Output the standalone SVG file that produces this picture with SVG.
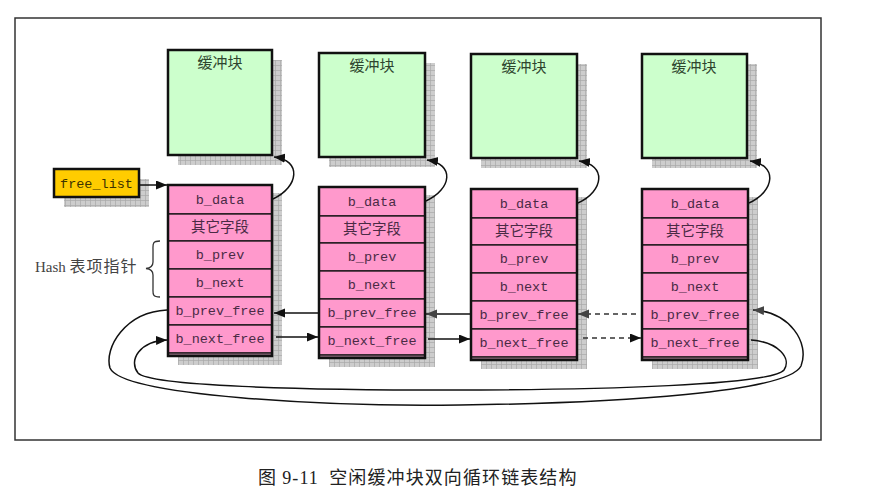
<svg xmlns="http://www.w3.org/2000/svg" width="880" height="502" viewBox="0 0 880 502">
<defs>
<pattern id="grid" width="5" height="5" patternUnits="userSpaceOnUse">
<rect width="5" height="5" fill="#cdcdcd"/>
<path d="M0 0.5H5M0.5 0V5" stroke="#a9a9a9" stroke-width="0.7" fill="none"/>
</pattern>
<marker id="ah" markerUnits="userSpaceOnUse" markerWidth="12" markerHeight="10" refX="11" refY="4.5" orient="auto">
<path d="M0 0L11 4.5L0 9z" fill="#111"/>
</marker>
<marker id="ahg" markerUnits="userSpaceOnUse" markerWidth="12" markerHeight="10" refX="11" refY="4.5" orient="auto">
<path d="M0 0L11 4.5L0 9z" fill="#444"/>
</marker>
</defs>
<style>
.shadow{fill:url(#grid);}
.buf{fill:#ccffcc;stroke:#111;stroke-width:2.5;}
.row{fill:#ff99cc;stroke:#111;stroke-width:1.3;}
.outer{fill:none;stroke:#111;stroke-width:2.5;}
.mono{font-family:"Liberation Mono","DejaVu Sans Mono",monospace;font-size:13.5px;fill:#4a2a45;text-anchor:middle;}
.cjk{font-family:"Noto Sans CJK SC","Noto Sans CJK JP",sans-serif;font-size:14.5px;fill:#4a2a45;text-anchor:middle;}
.btitle{font-family:"Noto Sans CJK SC","Noto Sans CJK JP",sans-serif;font-size:15px;fill:#2e452e;text-anchor:middle;}
.conn{fill:none;stroke:#111;stroke-width:1.5;}
.dash{fill:none;stroke:#333;stroke-width:1.5;stroke-dasharray:5 4;}
</style>
<rect x="15" y="18" width="806" height="422" fill="#fff" stroke="#333" stroke-width="1.5"/>

<g id="freelist">
<rect class="shadow" x="64" y="179" width="85" height="28"/>
<rect x="54" y="169" width="85" height="28" fill="#ffcc00" stroke="#111" stroke-width="2.5"/>
<text x="96.5" y="188" class="mono" style="fill:#3d3300">free_list</text>
</g>

<g id="buf1">
<rect class="shadow" x="178" y="60" width="104" height="105"/>
<rect class="buf" x="168" y="50" width="104" height="105"/>
<text x="220" y="68" class="btitle">缓冲块</text>
</g>
<g id="buf2">
<rect class="shadow" x="329" y="63" width="106" height="104"/>
<rect class="buf" x="319" y="53" width="106" height="104"/>
<text x="372" y="71" class="btitle">缓冲块</text>
</g>
<g id="buf3">
<rect class="shadow" x="481" y="64" width="106" height="104"/>
<rect class="buf" x="471" y="54" width="106" height="104"/>
<text x="524" y="72" class="btitle">缓冲块</text>
</g>
<g id="buf4">
<rect class="shadow" x="652" y="64" width="105" height="104"/>
<rect class="buf" x="642" y="54" width="105" height="104"/>
<text x="694" y="72" class="btitle">缓冲块</text>
</g>

<g id="head1" transform="translate(168,185)">
<rect class="shadow" x="10" y="8" width="104" height="172"/>
<rect class="row" x="0" y="0" width="104" height="29"/>
<rect class="row" x="0" y="29" width="104" height="27"/>
<rect class="row" x="0" y="56" width="104" height="28"/>
<rect class="row" x="0" y="84" width="104" height="28"/>
<rect class="row" x="0" y="112" width="104" height="28"/>
<rect class="row" x="0" y="140" width="104" height="28"/>
<rect x="0" y="168" width="104" height="3" fill="#8a6a7a" stroke="#111" stroke-width="1"/>
<rect class="outer" x="0" y="0" width="104" height="171"/>
<text x="52" y="19" class="mono">b_data</text>
<text x="52" y="47" class="cjk">其它字段</text>
<text x="52" y="74" class="mono">b_prev</text>
<text x="52" y="102" class="mono">b_next</text>
<text x="52" y="130" class="mono">b_prev_free</text>
<text x="52" y="158" class="mono">b_next_free</text>
</g>
<g id="head2" transform="translate(319,187)">
<rect class="shadow" x="10" y="8" width="106" height="172"/>
<rect class="row" x="0" y="0" width="106" height="29"/>
<rect class="row" x="0" y="29" width="106" height="27"/>
<rect class="row" x="0" y="56" width="106" height="28"/>
<rect class="row" x="0" y="84" width="106" height="28"/>
<rect class="row" x="0" y="112" width="106" height="28"/>
<rect class="row" x="0" y="140" width="106" height="28"/>
<rect x="0" y="168" width="106" height="3" fill="#8a6a7a" stroke="#111" stroke-width="1"/>
<rect class="outer" x="0" y="0" width="106" height="171"/>
<text x="53" y="19" class="mono">b_data</text>
<text x="53" y="47" class="cjk">其它字段</text>
<text x="53" y="74" class="mono">b_prev</text>
<text x="53" y="102" class="mono">b_next</text>
<text x="53" y="130" class="mono">b_prev_free</text>
<text x="53" y="158" class="mono">b_next_free</text>
</g>
<g id="head3" transform="translate(471,189)">
<rect class="shadow" x="10" y="8" width="106" height="172"/>
<rect class="row" x="0" y="0" width="106" height="29"/>
<rect class="row" x="0" y="29" width="106" height="27"/>
<rect class="row" x="0" y="56" width="106" height="28"/>
<rect class="row" x="0" y="84" width="106" height="28"/>
<rect class="row" x="0" y="112" width="106" height="28"/>
<rect class="row" x="0" y="140" width="106" height="28"/>
<rect x="0" y="168" width="106" height="3" fill="#8a6a7a" stroke="#111" stroke-width="1"/>
<rect class="outer" x="0" y="0" width="106" height="171"/>
<text x="53" y="19" class="mono">b_data</text>
<text x="53" y="47" class="cjk">其它字段</text>
<text x="53" y="74" class="mono">b_prev</text>
<text x="53" y="102" class="mono">b_next</text>
<text x="53" y="130" class="mono">b_prev_free</text>
<text x="53" y="158" class="mono">b_next_free</text>
</g>
<g id="head4" transform="translate(642,189)">
<rect class="shadow" x="10" y="8" width="106" height="172"/>
<rect class="row" x="0" y="0" width="106" height="29"/>
<rect class="row" x="0" y="29" width="106" height="27"/>
<rect class="row" x="0" y="56" width="106" height="28"/>
<rect class="row" x="0" y="84" width="106" height="28"/>
<rect class="row" x="0" y="112" width="106" height="28"/>
<rect class="row" x="0" y="140" width="106" height="28"/>
<rect x="0" y="168" width="106" height="3" fill="#8a6a7a" stroke="#111" stroke-width="1"/>
<rect class="outer" x="0" y="0" width="106" height="171"/>
<text x="53" y="19" class="mono">b_data</text>
<text x="53" y="47" class="cjk">其它字段</text>
<text x="53" y="74" class="mono">b_prev</text>
<text x="53" y="102" class="mono">b_next</text>
<text x="53" y="130" class="mono">b_prev_free</text>
<text x="53" y="158" class="mono">b_next_free</text>
</g>

<g id="hashlabel">
<text x="35" y="272" style="font-family:'Liberation Serif','Noto Sans CJK SC',serif;font-size:15px;fill:#444">Hash <tspan style="font-family:'Noto Sans CJK SC',sans-serif;font-size:16px;letter-spacing:1px">表项指针</tspan></text>
<path d="M160 241 C152 241 153 244 153 250 L153 262 C153 266 151 268 146 268.5 C151 269 153 271 153 275 L153 288 C153 294 152 297 160 297" fill="none" stroke="#333" stroke-width="1.3"/>
</g>

<g id="connectors">
<path class="conn" d="M140 185 L167 185" marker-end="url(#ah)"/>
<path class="conn" d="M273 199 C299 187 302 160 274 157" marker-end="url(#ah)"/>
<path class="conn" d="M426 201 C452 189 455 164 427 160" marker-end="url(#ah)"/>
<path class="conn" d="M578 203 C604 191 607 165 579 161" marker-end="url(#ah)"/>
<path class="conn" d="M749 203 C775 191 778 165 750 161" marker-end="url(#ah)"/>
<path class="conn" d="M318 313 L274 313" marker-end="url(#ah)"/>
<path class="conn" d="M276 337 L318 337" marker-end="url(#ah)"/>
<path class="conn" d="M470 314 L426 314" marker-end="url(#ahg)"/>
<path class="conn" d="M428 339 L470 339" marker-end="url(#ah)"/>
<path class="dash" d="M636 314 L578 314" marker-end="url(#ahg)"/>
<path class="dash" d="M583 338 L641 338" marker-end="url(#ah)"/>
<path class="conn" d="M167 310 C125 312 104 348 110 368 C122 396 330 407 460 405 C620 403 788 392 801 366 C810 343 790 312 753 310" marker-end="url(#ahg)"/>
<path class="conn" d="M751 340 C778 342 792 358 784 370 C772 385 600 390 450 390 C300 390 150 386 138 373 C128 360 140 341 167 340" marker-end="url(#ah)"/>
</g>

<text x="258" y="484" xml:space="preserve" style="font-family:'Noto Sans CJK SC',sans-serif;font-size:18px;fill:#222;letter-spacing:1.1px">图 <tspan style="font-family:'Liberation Serif',serif">9-11</tspan>  空闲缓冲块双向循环链表结构</text>
</svg>
